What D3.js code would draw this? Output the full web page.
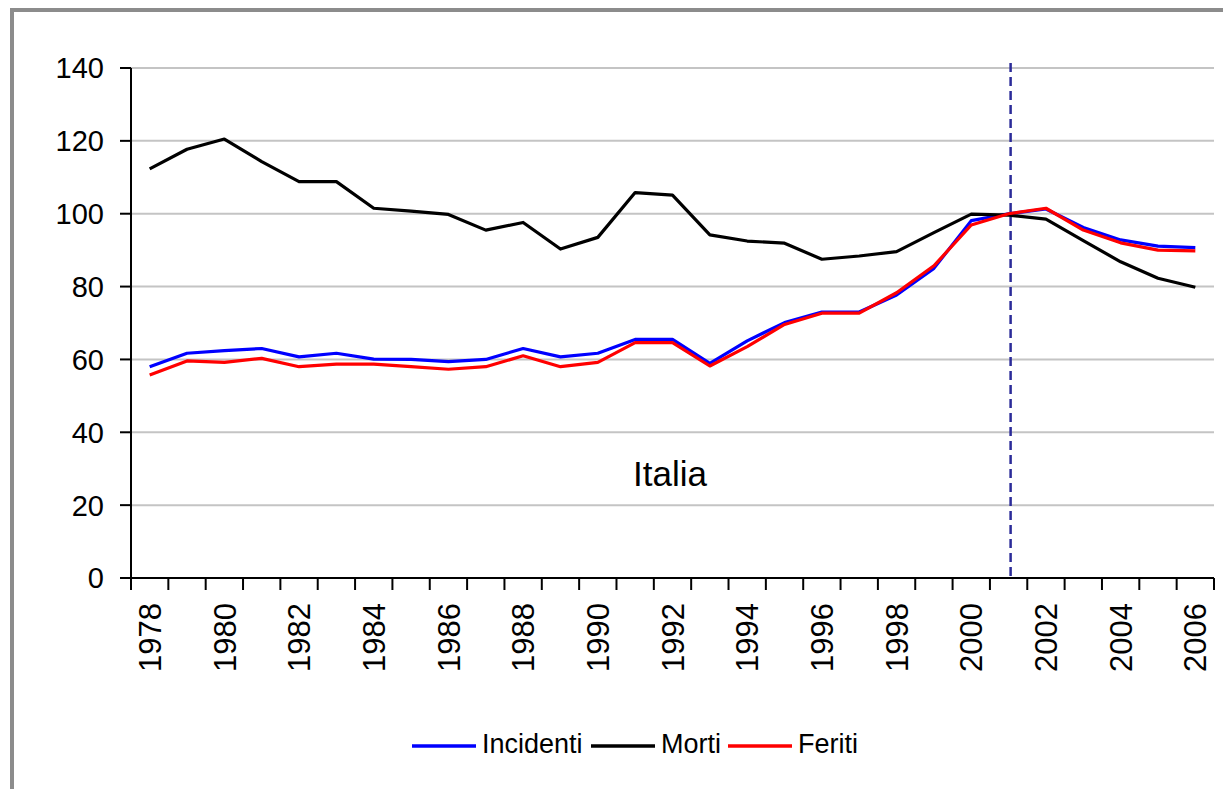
<!DOCTYPE html>
<html>
<head>
	<title> Italia </title>
	<script src="https://d3js.org/d3.v7.min.js"></script>
	<style>
		body { margin: 0; background: #fff; }
		text { font-family: "Liberation Sans", Arial, sans-serif; fill: #000; }
	</style>
</head>
<body>
	<svg width="1223" height="789"></svg>
	<script type="text/javascript">
		let years = d3.range(1978, 2007);
		let yearLabels = years.filter(function(y) { return y % 2 == 0; });
		let yTicks = [0, 20, 40, 60, 80, 100, 120, 140];
		let seriesNames = ["Incidenti", "Morti", "Feriti"];
		let seriesColors = ["#0000ff", "#000000", "#ff0000"];
		let incidenti = [58.0, 61.7, 62.4, 63.0, 60.7, 61.7, 60.1, 60.0, 59.4, 60.0,
				63.0, 60.7, 61.7, 65.5, 65.5, 58.9, 65.1, 70.1, 73.0, 73.0,
				77.7, 85.0, 98.1, 100.0, 101.3, 96.2, 92.8, 91.1, 90.7];
		let morti = [112.3, 117.7, 120.5, 114.3, 108.8, 108.8, 101.5, 100.7, 99.8, 95.5,
				97.6, 90.3, 93.5, 105.8, 105.1, 94.2, 92.5, 91.9, 87.5, 88.4,
				89.6, 94.8, 99.9, 99.6, 98.5, 92.6, 86.8, 82.3, 79.8];
		let feriti = [55.7, 59.6, 59.2, 60.3, 58.0, 58.7, 58.7, 58.0, 57.3, 58.0,
				61.0, 58.0, 59.2, 64.6, 64.6, 58.2, 63.5, 69.6, 72.7, 72.7,
				78.3, 85.7, 96.9, 100.0, 101.5, 95.5, 92.0, 90.0, 89.8];
		let refYear = 2001;

		let svg = d3.select("svg");
		let x = d3.scaleBand().domain(years).range([131, 1214]).padding(0);
		let y = d3.scaleLinear().domain([0, 140]).range([578, 68]);
		let bw = x.bandwidth();

		// cornice grigia
		svg.append("rect").attr("x", 12).attr("y", 10).attr("width", 1300).attr("height", 900)
			.attr("fill", "none").attr("stroke", "#8c8c8c").attr("stroke-width", 4);

		// griglia
		svg.append("g").selectAll("line").data(yTicks.filter(function(d) { return d > 0; })).enter()
			.append("line")
			.attr("x1", 131).attr("x2", 1214)
			.attr("y1", function(d) { return y(d); }).attr("y2", function(d) { return y(d); })
			.attr("stroke", "#c4c4c4").attr("stroke-width", 2);

		// asse y
		let yAxis = svg.append("g");
		yAxis.append("line").attr("x1", 131).attr("x2", 131).attr("y1", y(140)).attr("y2", y(0))
			.attr("stroke", "#000").attr("stroke-width", 2);
		yAxis.selectAll(".tk").data(yTicks).enter().append("line")
			.attr("x1", 120).attr("x2", 131)
			.attr("y1", function(d) { return y(d); }).attr("y2", function(d) { return y(d); })
			.attr("stroke", "#000").attr("stroke-width", 2);
		yAxis.selectAll("text").data(yTicks).enter().append("text")
			.attr("x", 104).attr("y", function(d) { return y(d); })
			.attr("dy", "0.36em").attr("text-anchor", "end")
			.style("font-size", "29px")
			.text(function(d) { return d; });

		// asse x
		let xAxis = svg.append("g");
		xAxis.append("line").attr("x1", 120).attr("x2", 1214).attr("y1", y(0)).attr("y2", y(0))
			.attr("stroke", "#000").attr("stroke-width", 2);
		let tickPos = years.map(function(d) { return x(d); }).concat([x.range()[1]]);
		xAxis.selectAll(".tk").data(tickPos).enter().append("line")
			.attr("x1", function(d) { return d; }).attr("x2", function(d) { return d; })
			.attr("y1", y(0)).attr("y2", y(0) + 12)
			.attr("stroke", "#000").attr("stroke-width", 2);
		xAxis.selectAll("text").data(yearLabels).enter().append("text")
			.attr("transform", function(d) { return "translate(" + (x(d) + bw / 2) + ",603) rotate(-90)"; })
			.attr("dy", "0.36em").attr("text-anchor", "end")
			.style("font-size", "31px")
			.text(function(d) { return d; });

		// linea tratteggiata
		svg.append("line")
			.attr("x1", x(refYear) + bw / 2 + 2).attr("x2", x(refYear) + bw / 2 + 2)
			.attr("y1", 63).attr("y2", y(0))
			.attr("stroke", "#2b2b99").attr("stroke-width", 2.5)
			.attr("stroke-dasharray", "9,5");

		// serie
		let allSeries = [incidenti, morti, feriti];
		let line = d3.line()
			.x(function(d, i) { return x(years[i]) + bw / 2; })
			.y(function(d) { return y(d); });
		allSeries.forEach(function(s, k) {
			svg.append("path").datum(s)
				.attr("fill", "none")
				.attr("stroke", seriesColors[k])
				.attr("stroke-width", 3.2)
				.attr("stroke-linejoin", "round")
				.attr("d", line);
		});

		svg.append("text").attr("x", 670).attr("y", 486).attr("text-anchor", "middle")
			.style("font-size", "35px").text("Italia");

		// legenda
		let legX = [412, 591, 728];
		let leg = svg.append("g");
		seriesNames.forEach(function(n, k) {
			leg.append("line").attr("x1", legX[k]).attr("x2", legX[k] + 64)
				.attr("y1", 746).attr("y2", 746)
				.attr("stroke", seriesColors[k]).attr("stroke-width", 3.5);
			leg.append("text").attr("x", legX[k] + 70).attr("y", 753)
				.style("font-size", "27px").text(n);
		});
	</script>
</body>
</html>
